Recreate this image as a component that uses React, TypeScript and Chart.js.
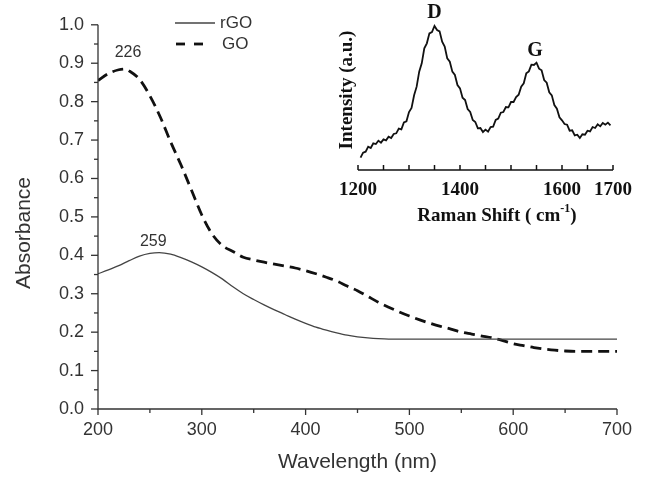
import React, { useEffect, useRef } from 'react';
import { Chart, registerables } from 'chart.js';

Chart.register(...registerables);

// ---- Main UV-Vis data ----
const goWavelength = [200, 210, 220, 226, 230, 240, 250, 260, 270, 280, 290, 300, 310, 320, 330, 340, 350, 360, 370, 380, 390, 400, 410, 420, 430, 440, 450, 460, 470, 480, 490, 500, 510, 520, 530, 540, 550, 560, 570, 580, 590, 600, 610, 620, 630, 640, 650, 660, 670, 680, 690, 700];
const goAbsorbance = [0.855, 0.873, 0.883, 0.885, 0.88, 0.858, 0.815, 0.76, 0.695, 0.635, 0.57, 0.505, 0.455, 0.425, 0.41, 0.395, 0.388, 0.382, 0.377, 0.372, 0.367, 0.36, 0.352, 0.343, 0.333, 0.32, 0.308, 0.293, 0.278, 0.265, 0.253, 0.242, 0.232, 0.223, 0.215, 0.208, 0.2, 0.195, 0.19, 0.185, 0.178, 0.17, 0.165, 0.16, 0.156, 0.153, 0.151, 0.15, 0.15, 0.15, 0.15, 0.15];

const rgoWavelength = [200, 210, 220, 230, 240, 250, 259, 270, 280, 290, 300, 310, 320, 330, 340, 350, 360, 370, 380, 390, 400, 410, 420, 430, 440, 450, 460, 470, 480, 500, 550, 600, 650, 700];
const rgoAbsorbance = [0.352, 0.362, 0.373, 0.386, 0.398, 0.405, 0.407, 0.403, 0.394, 0.383, 0.37, 0.355, 0.338, 0.318, 0.3, 0.285, 0.271, 0.258, 0.246, 0.234, 0.223, 0.213, 0.205, 0.198, 0.192, 0.188, 0.185, 0.183, 0.182, 0.182, 0.182, 0.182, 0.182, 0.182];

const peakLabels = [
  { text: '226', x: 226, y: 0.885, dx: 3, dy: -16 },
  { text: '259', x: 259, y: 0.407, dx: -6, dy: -11 },
];

const xTickValues = [200, 300, 400, 500, 600, 700];
const yTickValues = [0.0, 0.1, 0.2, 0.3, 0.4, 0.5, 0.6, 0.7, 0.8, 0.9, 1.0];

// ---- Inset Raman data ----
const ramanShift = [1205, 1210, 1215, 1220, 1225, 1230, 1235, 1240, 1245, 1250, 1255, 1260, 1265, 1270, 1275, 1280, 1285, 1290, 1295, 1300, 1305, 1310, 1315, 1320, 1325, 1330, 1335, 1340, 1345, 1350, 1355, 1360, 1365, 1370, 1375, 1380, 1385, 1390, 1395, 1400, 1405, 1410, 1415, 1420, 1425, 1430, 1435, 1440, 1445, 1450, 1455, 1460, 1465, 1470, 1475, 1480, 1485, 1490, 1495, 1500, 1505, 1510, 1515, 1520, 1525, 1530, 1535, 1540, 1545, 1550, 1555, 1560, 1565, 1570, 1575, 1580, 1585, 1590, 1595, 1600, 1605, 1610, 1615, 1620, 1625, 1630, 1635, 1640, 1645, 1650, 1655, 1660, 1665, 1670, 1675, 1680, 1685, 1690, 1695];
const ramanIntensity = [0.37, 0.52, 0.55, 0.7, 0.66, 0.8, 0.78, 0.88, 0.82, 0.92, 0.89, 1.0, 0.96, 1.08, 1.1, 1.24, 1.22, 1.43, 1.46, 1.74, 1.86, 2.24, 2.5, 2.95, 3.2, 3.65, 3.8, 4.1, 4.14, 4.32, 4.2, 4.16, 3.85, 3.7, 3.35, 3.25, 2.95, 2.85, 2.55, 2.45, 2.17, 2.1, 1.83, 1.74, 1.5, 1.44, 1.25, 1.26, 1.14, 1.21, 1.15, 1.29, 1.3, 1.5, 1.54, 1.72, 1.74, 1.89, 1.88, 2.04, 2.04, 2.19, 2.26, 2.5, 2.6, 2.9, 2.96, 3.16, 3.15, 3.22, 3.04, 2.99, 2.7, 2.62, 2.33, 2.24, 1.95, 1.84, 1.58, 1.49, 1.38, 1.36, 1.18, 1.19, 1.04, 1.06, 0.96, 1.07, 1.06, 1.18, 1.16, 1.29, 1.26, 1.37, 1.31, 1.41, 1.36, 1.42, 1.34];
const ramanLabeledTicks = [1200, 1400, 1600, 1700];
const bandLabels = [
  { text: 'D', x: 1350, y: 4.32, dy: -13 },
  { text: 'G', x: 1547, y: 3.22, dy: -12 },
];

const SANS = '"Liberation Sans", Arial, sans-serif';
const SERIF = '"Liberation Serif", "Times New Roman", serif';
const TEXT = '#333';

const mainDecor = {
  id: 'mainDecor',
  afterDraw(chart: any) {
    const { ctx, chartArea } = chart;
    const xs = chart.scales.x;
    const ys = chart.scales.y;
    ctx.save();
    ctx.strokeStyle = '#333';
    ctx.lineWidth = 1.3;
    ctx.beginPath();
    ctx.moveTo(chartArea.left, chartArea.top);
    ctx.lineTo(chartArea.left, chartArea.bottom);
    ctx.lineTo(chartArea.right, chartArea.bottom);
    ctx.stroke();
    for (let i = 0; i < yTickValues.length; i++) {
      const p = ys.getPixelForValue(yTickValues[i]);
      ctx.beginPath();
      ctx.moveTo(chartArea.left, p);
      ctx.lineTo(chartArea.left - 7, p);
      ctx.stroke();
      if (i < yTickValues.length - 1) {
        const m = ys.getPixelForValue((yTickValues[i] + yTickValues[i + 1]) / 2);
        ctx.beginPath();
        ctx.moveTo(chartArea.left, m);
        ctx.lineTo(chartArea.left - 4, m);
        ctx.stroke();
      }
    }
    for (let i = 0; i < xTickValues.length; i++) {
      const p = xs.getPixelForValue(xTickValues[i]);
      ctx.beginPath();
      ctx.moveTo(p, chartArea.bottom);
      ctx.lineTo(p, chartArea.bottom + 6);
      ctx.stroke();
      if (i < xTickValues.length - 1) {
        const m = xs.getPixelForValue((xTickValues[i] + xTickValues[i + 1]) / 2);
        ctx.beginPath();
        ctx.moveTo(m, chartArea.bottom);
        ctx.lineTo(m, chartArea.bottom + 4);
        ctx.stroke();
      }
    }
    ctx.fillStyle = TEXT;
    ctx.font = `21px ${SANS}`;
    ctx.textAlign = 'center';
    ctx.textBaseline = 'middle';
    ctx.fillText('Wavelength (nm)', (chartArea.left + chartArea.right) / 2, 462);
    ctx.save();
    ctx.translate(24, 233);
    ctx.rotate(-Math.PI / 2);
    ctx.fillText('Absorbance', 0, 0);
    ctx.restore();
    ctx.font = `16px ${SANS}`;
    for (const a of peakLabels) {
      ctx.fillText(a.text, xs.getPixelForValue(a.x) + a.dx, ys.getPixelForValue(a.y) + a.dy);
    }
    ctx.strokeStyle = '#444';
    ctx.lineWidth = 1.3;
    ctx.beginPath();
    ctx.moveTo(175, 23);
    ctx.lineTo(215, 23);
    ctx.stroke();
    ctx.strokeStyle = '#111';
    ctx.lineWidth = 2.8;
    ctx.setLineDash([9, 9]);
    ctx.beginPath();
    ctx.moveTo(176, 44);
    ctx.lineTo(204, 44);
    ctx.stroke();
    ctx.setLineDash([]);
    ctx.font = `17px ${SANS}`;
    ctx.textAlign = 'left';
    ctx.fillText('rGO', 220, 23);
    ctx.fillText('GO', 222, 44);
    ctx.restore();
  },
};

const insetDecor = {
  id: 'insetDecor',
  afterDraw(chart: any) {
    const { ctx, chartArea } = chart;
    const xs = chart.scales.x;
    const ys = chart.scales.y;
    ctx.save();
    ctx.strokeStyle = '#111';
    ctx.lineWidth = 1.5;
    ctx.beginPath();
    ctx.moveTo(chartArea.left, chartArea.bottom);
    ctx.lineTo(chartArea.right, chartArea.bottom);
    ctx.stroke();
    for (const t of xs.ticks) {
      const p = xs.getPixelForValue(t.value);
      ctx.beginPath();
      ctx.moveTo(p, chartArea.bottom);
      ctx.lineTo(p, chartArea.bottom - 5);
      ctx.stroke();
    }
    ctx.fillStyle = '#111';
    ctx.textBaseline = 'middle';
    ctx.textAlign = 'center';
    ctx.font = `bold 20px ${SERIF}`;
    for (const b of bandLabels) {
      ctx.fillText(b.text, xs.getPixelForValue(b.x), ys.getPixelForValue(b.y) + b.dy);
    }
    const main = 'Raman Shift ( cm';
    const sup = '-1';
    const close = ')';
    ctx.font = `bold 19px ${SERIF}`;
    const w1 = ctx.measureText(main).width;
    const w3 = ctx.measureText(close).width;
    ctx.font = `bold 12px ${SERIF}`;
    const w2 = ctx.measureText(sup).width;
    const total = w1 + w2 + w3;
    const cx = 167;
    const cy = 216;
    const x0 = cx - total / 2;
    ctx.textAlign = 'left';
    ctx.font = `bold 19px ${SERIF}`;
    ctx.fillText(main, x0, cy);
    ctx.font = `bold 12px ${SERIF}`;
    ctx.fillText(sup, x0 + w1, cy - 7);
    ctx.font = `bold 19px ${SERIF}`;
    ctx.fillText(close, x0 + w1 + w2, cy);
    ctx.textAlign = 'center';
    ctx.save();
    ctx.translate(17, 90);
    ctx.rotate(-Math.PI / 2);
    ctx.fillText('Intensity (a.u.)', 0, 0);
    ctx.restore();
    ctx.restore();
  },
};

export default function App() {
  const mainRef = useRef<HTMLCanvasElement>(null);
  const insetRef = useRef<HTMLCanvasElement>(null);

  useEffect(() => {
    const mainChart = new Chart(mainRef.current as HTMLCanvasElement, {
      type: 'line',
      data: {
        datasets: [
          {
            label: 'rGO',
            data: rgoWavelength.map((x, i) => ({ x, y: rgoAbsorbance[i] })),
            borderColor: '#444',
            borderWidth: 1.3,
            pointRadius: 0,
            cubicInterpolationMode: 'monotone',
            fill: false,
          },
          {
            label: 'GO',
            data: goWavelength.map((x, i) => ({ x, y: goAbsorbance[i] })),
            borderColor: '#111',
            borderWidth: 2.8,
            borderDash: [11, 6],
            pointRadius: 0,
            cubicInterpolationMode: 'monotone',
            fill: false,
          },
        ],
      },
      options: {
        animation: false,
        responsive: false,
        maintainAspectRatio: false,
        layout: { padding: { top: 24, right: 29, left: 0, bottom: 0 } },
        plugins: { legend: { display: false }, tooltip: { enabled: false } },
        scales: {
          x: {
            type: 'linear',
            min: 200,
            max: 700,
            ticks: {
              stepSize: 100,
              maxRotation: 0,
              autoSkip: false,
              padding: 10,
              color: TEXT,
              font: { family: SANS, size: 18 },
            },
            grid: { display: false, drawTicks: false },
            border: { display: false },
            afterFit: (s: any) => { s.height = 70; },
          },
          y: {
            type: 'linear',
            min: 0,
            max: 1,
            ticks: {
              stepSize: 0.1,
              padding: 14,
              color: TEXT,
              font: { family: SANS, size: 18 },
              callback: (v: any) => Number(v).toFixed(1),
            },
            grid: { display: false, drawTicks: false },
            border: { display: false },
            afterFit: (s: any) => { s.width = 98; },
          },
        },
      },
      plugins: [mainDecor],
    } as any);

    const insetChart = new Chart(insetRef.current as HTMLCanvasElement, {
      type: 'line',
      data: {
        datasets: [
          {
            label: 'Raman',
            data: ramanShift.map((x, i) => ({ x, y: ramanIntensity[i] })),
            borderColor: '#111',
            borderWidth: 1.8,
            pointRadius: 0,
            tension: 0,
            fill: false,
          },
        ],
      },
      options: {
        animation: false,
        responsive: false,
        maintainAspectRatio: false,
        layout: { padding: { top: 20, right: 33, left: 27, bottom: 0 } },
        plugins: { legend: { display: false }, tooltip: { enabled: false } },
        scales: {
          x: {
            type: 'linear',
            min: 1200,
            max: 1700,
            ticks: {
              stepSize: 50,
              autoSkip: false,
              maxRotation: 0,
              padding: 9,
              color: '#111',
              font: { family: SERIF, size: 19, weight: 'bold' },
              callback: (v: any) => (ramanLabeledTicks.includes(Number(v)) ? String(v) : ''),
            },
            grid: { display: false, drawTicks: false },
            border: { display: false },
            afterFit: (s: any) => { s.height = 70; },
          },
          y: { display: false, min: 0, max: 4.5 },
        },
      },
      plugins: [insetDecor],
    } as any);

    return () => {
      mainChart.destroy();
      insetChart.destroy();
    };
  }, []);

  return (
    <div style={{ position: 'absolute', left: 0, top: 0, width: 646, height: 479, background: '#fff' }}>
      <canvas ref={mainRef} width={646} height={479} style={{ position: 'absolute', left: 0, top: 0, width: 646, height: 479 }} />
      <canvas ref={insetRef} width={316} height={240} style={{ position: 'absolute', left: 330, top: 0, width: 316, height: 240 }} />
    </div>
  );
}
